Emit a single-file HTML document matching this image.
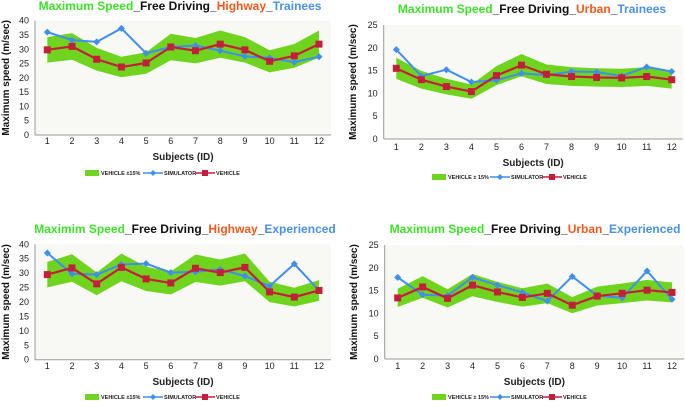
<!DOCTYPE html>
<html><head><meta charset="utf-8">
<style>
body{margin:0;background:#fff;width:685px;height:402px;overflow:hidden;font-family:"Liberation Sans",Arial,sans-serif}
svg text{font-family:"Liberation Sans",Arial,sans-serif}
</style></head>
<body>
<svg id="root" width="685" height="402" viewBox="0 0 685 402" xmlns="http://www.w3.org/2000/svg"></svg>
<script>
const subjects = [1,2,3,4,5,6,7,8,9,10,11,12];
const vehHwyTr = [29.8,31,26.5,23.8,25.2,30.8,29.5,31.8,29.8,25.8,27.7,31.8];
const simHwyTr = [36,33.2,32.6,37.3,28.6,30.8,31.3,29.5,27.5,27,25.5,27.4];
const vehUrbTr = [15.5,13,11.5,10.4,13.9,16.2,14.2,13.7,13.5,13.4,13.7,13];
const simUrbTr = [19.6,13.8,15.2,12.5,12.9,14.4,14,14.8,14.7,13.8,15.8,14.8];
const vehHwyEx = [29.5,31.8,26.3,32,28,26.6,31.7,30.2,32,23.5,21.7,24];
const simHwyEx = [37,29.8,29.5,33,33.3,30.2,30.5,31.3,29,25.5,33.2,24];
const vehUrbEx = [13.4,15.8,13.3,16.2,14.7,13.5,14.4,11.8,13.8,14.4,15.1,14.6];
const simUrbEx = [17.9,14.1,13.9,17.9,16.2,14.6,12.7,18.1,13.9,13.4,19.3,13.1];
const ticksHwy = [0,5,10,15,20,25,30,35,40];
const ticksUrb = [0,5,10,15,20,25];
const bandPct = 0.15;

const NS="http://www.w3.org/2000/svg";
const root=document.getElementById('root');
function mk(tag,attrs,parent){const e=document.createElementNS(NS,tag);for(const k in attrs)e.setAttribute(k,attrs[k]);(parent||root).appendChild(e);return e;}

const charts=[
 {name:'highway-trainees',veh:vehHwyTr,sim:simHwyTr,ticks:ticksHwy,max:40,L:35,R:331,T:20.7,B:135,x1:47.3,x12:319,title:['Maximum Speed','Free Driving','Highway','Trainees'],tx:180,ty:10,ytx:9,xly:144,xty:160,lgy:175,lgx:185,band:'VEHICLE ±15%'},
 {name:'urban-trainees',veh:vehUrbTr,sim:simUrbTr,ticks:ticksUrb,max:25,L:383.7,R:682.7,T:25,B:139,x1:396.3,x12:671.7,title:['Maximum Speed','Free Driving','Urban','Trainees'],tx:532,ty:13,ytx:356,xly:150,xty:166,lgy:179,lgx:532,band:'VEHICLE ± 15%'},
 {name:'highway-experienced',veh:vehHwyEx,sim:simHwyEx,ticks:ticksHwy,max:40,L:35,R:331,T:244.3,B:359.7,x1:47.3,x12:319,title:['Maximim Speed','Free Driving','Highway','Experienced'],tx:185,ty:233,ytx:9,xly:369,xty:385,lgy:399,lgx:185,band:'VEHICLE ±15%'},
 {name:'urban-experienced',veh:vehUrbEx,sim:simUrbEx,ticks:ticksUrb,max:25,L:384.7,R:684,T:245,B:359,x1:397.7,x12:672,title:['Maximum Speed','Free Driving','Urban','Experienced'],tx:535,ty:233,ytx:357,xly:369,xty:385,lgy:399,lgx:532,band:'VEHICLE ± 15%'}
];

charts.forEach(c=>{
 const g=mk('g',{});
 
 
 const xs=i=>c.x1+(c.x12-c.x1)*(i)/(subjects.length-1);
 const ys=v=>c.B-(c.B-c.T)*v/c.max;
 const bg=mk('rect',{x:c.L,y:c.T,width:c.R-c.L,height:c.B-c.T,fill:'#f8f8f5'},g);
 
 
 mk('line',{x1:c.L,y1:c.T,x2:c.L,y2:c.B,stroke:'#999','stroke-width':1},g);
 mk('line',{x1:c.L,y1:c.B,x2:c.R,y2:c.B,stroke:'#999','stroke-width':1},g);
 c.ticks.forEach(t=>{
  const tt=mk('text',{x:c.L-6,y:ys(t)+3,'font-size':9,'text-anchor':'end',fill:'#222'},g);tt.textContent=t;
  
  
 });
 subjects.forEach((s,i)=>{
  const tt=mk('text',{x:xs(i),y:c.xly,'font-size':9,'text-anchor':'middle',fill:'#222'},g);tt.textContent=s;
  
  
 });
 let up=c.veh.map((v,i)=>xs(i)+','+ys(v*(1+bandPct)));
 let dn=c.veh.map((v,i)=>xs(i)+','+ys(v*(1-bandPct))).reverse();
 const band=mk('polygon',{points:up.concat(dn).join(' '),fill:'#6fd41e'},g);
 
 
 const sl=mk('polyline',{points:c.sim.map((v,i)=>xs(i)+','+ys(v)).join(' '),fill:'none',stroke:'#3f8ef0','stroke-width':2},g);
 
 
 c.sim.forEach((v,i)=>{
  const p=mk('polygon',{points:`${xs(i)},${ys(v)-3.5} ${xs(i)+3.5},${ys(v)} ${xs(i)},${ys(v)+3.5} ${xs(i)-3.5},${ys(v)}`,fill:'#3f8ef0'},g);
  
  
 });
 const vl=mk('polyline',{points:c.veh.map((v,i)=>xs(i)+','+ys(v)).join(' '),fill:'none',stroke:'#c41f3a','stroke-width':2.2},g);
 
 
 c.veh.forEach((v,i)=>{
  const p=mk('rect',{x:xs(i)-3.5,y:ys(v)-3.5,width:7,height:7,fill:'#c41f3a'},g);
  
  
 });
 const t=mk('text',{x:c.tx,y:c.ty,'font-size':12,'font-weight':'bold','text-anchor':'middle'},g);
 
 
 const cols=['#3ee02a','#111','#f05a1e','#4a90e8'];
 c.title.forEach((s,i)=>{
  if(i>0){const u=mk('tspan',{fill:'#111'},t);u.textContent='_';}
  const sp=mk('tspan',{fill:cols[i]},t);sp.textContent=s;
 });
 const yt=mk('text',{x:c.ytx,y:(c.T+c.B)/2,'font-size':10,'font-weight':'bold','text-anchor':'middle',transform:`rotate(-90 ${c.ytx} ${(c.T+c.B)/2})`,fill:'#111'},g);
 yt.textContent='Maximum speed (m/sec)';
 
 
 const xt=mk('text',{x:(c.L+c.R)/2,y:c.xty,'font-size':10,'font-weight':'bold','text-anchor':'middle',fill:'#222'},g);
 xt.textContent='Subjects (ID)';
 
 
 const lg=mk('g',{},g);
 
 
 const lx=c.lgx-100;
 mk('rect',{x:lx,y:c.lgy-5,width:14,height:6,fill:'#6fd41e'},lg);
 const l1=mk('text',{x:lx+16,y:c.lgy,'font-size':5.5,'font-weight':'bold',fill:'#222'},lg);l1.textContent=c.band;
 
 
 mk('line',{x1:lx+58,y1:c.lgy-2,x2:lx+78,y2:c.lgy-2,stroke:'#3f8ef0','stroke-width':1.5},lg);
 mk('polygon',{points:`${lx+68},${c.lgy-5} ${lx+71},${c.lgy-2} ${lx+68},${c.lgy+1} ${lx+65},${c.lgy-2}`,fill:'#3f8ef0'},lg);
 const l2=mk('text',{x:lx+79,y:c.lgy,'font-size':5.5,'font-weight':'bold',fill:'#222'},lg);l2.textContent='SIMULATOR';
 
 
 mk('line',{x1:lx+110,y1:c.lgy-2,x2:lx+130,y2:c.lgy-2,stroke:'#c41f3a','stroke-width':1.5},lg);
 mk('rect',{x:lx+117,y:c.lgy-5,width:6,height:6,fill:'#c41f3a'},lg);
 const l3=mk('text',{x:lx+131,y:c.lgy,'font-size':5.5,'font-weight':'bold',fill:'#222'},lg);l3.textContent='VEHICLE';
 
 
});
</script>
</body></html>
